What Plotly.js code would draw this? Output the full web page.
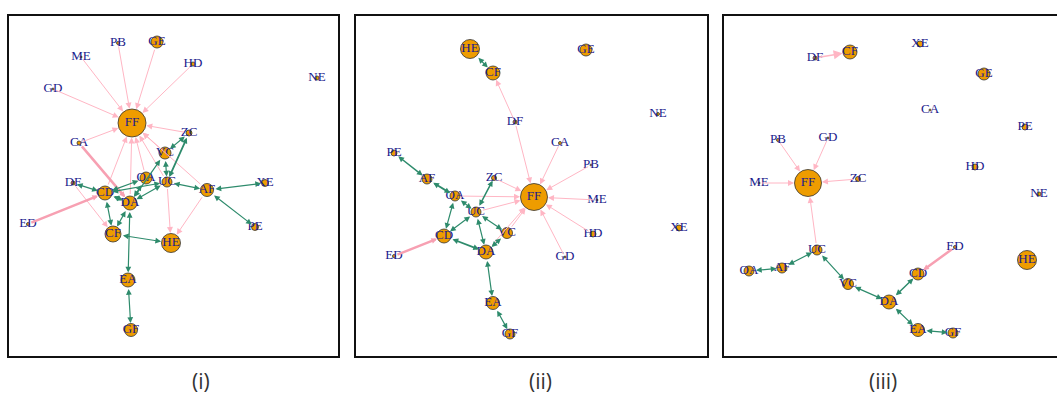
<!DOCTYPE html>
<html>
<head>
<meta charset="utf-8">
<script src="https://cdn.plot.ly/plotly-3.0.1.min.js"></script>
<style>
  html, body { margin: 0; padding: 0; background: #ffffff; }
  #chart { width: 1057px; height: 400px; }
</style>
</head>
<body>
<div id="chart"></div>
<script>
// Actor codes shared by the three networks
const nodeNames = ['PB','GE','ME','HD','NE','GD','FF','CA','ZC','VC','OA','UC','DF','CD','AF','XE','DA','ED','CF','HE','PE','EA','GF'];

// ---- Network (i): layout positions and vertex sizes ----
const layoutXi = [118,157, 81,193,317, 53,132, 79,189,165,146,167, 73,105,207,265,130, 28,113,171,255,128,131];
const layoutYi = [ 43, 42, 57, 64, 78, 89,123,143,133,153,178,182,183,193,190,183,203,224,234,243,227,280,330];
const vsizeI   = [1.5,  6,  1,  2,  2,  1, 14,  2,  3,  6,  6,  5,  2,  7,6.5,3.5,  7,1.5,  8,9.5,3.5,  7,6.5];
// one-way ties
const oneFromI = ['PB','GE','ME','HD','GD','CA','ZC','VC','OA','UC','CD','DA','AF','CA','DF','ED','UC','AF'];
const oneToI   = ['FF','FF','FF','FF','FF','FF','FF','FF','FF','FF','FF','FF','FF','DA','CF','CD','HE','HE'];
const oneWI    = [  1,   1,   1,   1,   1,   1,   1,   1,   1,   1,   1,   1,   1, 2.5,   1, 2.5,   1,   1];
// mutual ties
const twoAI = ['ZC','ZC','VC','VC','OA','UC','OA','UC','UC','AF','AF','DF','CD','CD','DA','CF','DA','EA'];
const twoBI = ['VC','UC','UC','DA','CD','CD','DA','DA','AF','XE','PE','CD','DA','CF','CF','HE','EA','GF'];
const twoWI = [1.2, 1.8, 1.2, 1.2, 1.2, 1.2, 1.2, 1.2, 1.2, 1.2, 1.2, 1.2, 1.8, 1.2, 1.2, 1.2, 1.2, 1.2];

// ---- Network (ii) ----
const layoutXii = [591,586,597,593,658,565,534,560,494,507,455,476,515,444,427,679,486,394,493,470,394,493,510];
const layoutYii = [165, 50,200,234,114,257,197,143,178,233,196,212,122,236,179,228,252,256, 73, 49,153,303,334];
const vsizeII   = [  1,  6,  1,  3,1.5,  1,13.5,1.5,2.5,5.5, 5,  5,  2,  7,  5,  3,  7,1.5,  7,9.5,  3,6.5,  5];
const oneFromII = ['DF','DF','CA','PB','ME','HD','GD','ZC','OA','UC','VC','DA','ED'];
const oneToII   = ['CF','FF','FF','FF','FF','FF','FF','FF','FF','FF','FF','FF','CD'];
const oneWII    = [  1,   1,   1,   1,   1,   1,   1,   1,   1,   1,   1,   1, 2.5];
const twoAII = ['HE','PE','AF','OA','OA','UC','UC','UC','UC','CD','VC','DA','EA'];
const twoBII = ['CF','AF','OA','CD','UC','ZC','CD','VC','DA','DA','DA','EA','GF'];
const twoWII = [1.2, 1.5, 1.8, 1.2, 1.2, 1.5, 1.2, 1.2, 1.2, 1.8, 1.2, 1.2, 1.2];

// ---- Network (iii) ----
const layoutXiii = [778,984,759,975,1039,828,808,930,858,848,749,817,815,918,782,920,889,955,850,1027,1025,918,953];
const layoutYiii = [140, 74,183,167, 194,138,183,110,179,284,271,250, 58,274,268, 44,302,247, 52, 260, 127,330,333];
const vsizeIII   = [1.5,  6,  1,  3,   2,  1,13.5, 1,2.5,5.5,  5,  5,  2,  6,  5,  3,  7,1.5,  7, 9.5,   3,6.5,  5];
const oneFromIII = ['DF','PB','GD','ME','ZC','UC','ED'];
const oneToIII   = ['CF','FF','FF','FF','FF','FF','CD'];
const oneWIII    = [1.5,   1,   1,   1,   1,   1, 2.5];
const twoAIII = ['OA','AF','UC','VC','DA','DA','EA'];
const twoBIII = ['AF','UC','VC','DA','CD','EA','GF'];
const twoWIII = [1.2, 1.2, 1.2, 1.2, 1.5, 1.2, 1.2];

const panelTitles = ['(i)', '(ii)', '(iii)'];

// ---- drawing ----
const W = 1057, H = 400;
const frameTop = 15, frameBottom = 357;
const frames = [[8, 339], [355, 708], [723, 1057]];

const nodeFill = '#EE9C00';
const labelColor = '#1a1a8c';
const oneColor = '#FFB6C4';
const oneColorHeavy = '#F7A0B2';
const twoColor = '#2E8B6C';

const panels = [
  {x: layoutXi,   y: layoutYi,   s: vsizeI,   of: oneFromI,   ot: oneToI,   ow: oneWI,   ta: twoAI,   tb: twoBI,   tw: twoWI},
  {x: layoutXii,  y: layoutYii,  s: vsizeII,  of: oneFromII,  ot: oneToII,  ow: oneWII,  ta: twoAII,  tb: twoBII,  tw: twoWII},
  {x: layoutXiii, y: layoutYiii, s: vsizeIII, of: oneFromIII, ot: oneToIII, ow: oneWIII, ta: twoAIII, tb: twoBIII, tw: twoWIII}
];

const traces = [];
const annotations = [];
const shapes = [];
const layout = {
  width: W, height: H,
  margin: {l: 0, r: 0, t: 0, b: 0},
  paper_bgcolor: '#ffffff',
  plot_bgcolor: 'rgba(0,0,0,0)',
  showlegend: false,
  hovermode: false
};

// arrowheads keep roughly the same size whatever the line width
const headSize = w => Math.max(0.3, 1.15 / w);

panels.forEach((p, k) => {
  const sfx = k === 0 ? '' : String(k + 1);
  const xa = 'x' + sfx, ya = 'y' + sfx;
  const [left, right] = frames[k];
  layout['xaxis' + sfx] = {
    domain: [left / W, Math.min(right / W, 1)],
    range: [left, right], visible: false, fixedrange: true
  };
  layout['yaxis' + sfx] = {
    domain: [1 - frameBottom / H, 1 - frameTop / H],
    range: [frameBottom, frameTop], visible: false, fixedrange: true
  };

  const idx = name => nodeNames.indexOf(name);

  const addTie = (a, b, w, both) => {
    const i = idx(a), j = idx(b);
    const heavy = !both && w > 2;
    annotations.push({
      xref: xa, yref: ya, axref: xa, ayref: ya,
      x: p.x[j], y: p.y[j], ax: p.x[i], ay: p.y[i],
      text: '', showarrow: true,
      arrowhead: 2, arrowsize: both ? headSize(w) : (heavy ? 0.45 : 1.2),
      arrowwidth: w,
      arrowcolor: both ? twoColor : (heavy ? oneColorHeavy : oneColor),
      arrowside: both ? 'end+start' : 'end',
      startarrowhead: 2, startarrowsize: headSize(w),
      standoff: p.s[j] + 0.5,
      startstandoff: p.s[i] + 0.5
    });
  };
  p.of.forEach((a, e) => addTie(a, p.ot[e], p.ow[e], false));
  p.ta.forEach((a, e) => addTie(a, p.tb[e], p.tw[e], true));

  traces.push({
    type: 'scatter', mode: 'markers+text',
    xaxis: xa, yaxis: ya,
    x: p.x, y: p.y, text: nodeNames,
    textposition: 'middle center',
    textfont: {family: 'Liberation Serif, DejaVu Serif, serif', size: 13, color: labelColor},
    marker: {
      size: p.s.map(r => 2 * r), color: nodeFill, opacity: 1,
      line: {color: '#333333', width: 0.8}
    },
    cliponaxis: false, hoverinfo: 'skip'
  });

  shapes.push({
    type: 'rect', xref: xa + ' domain', yref: ya + ' domain',
    x0: 0, x1: k === 2 ? 1.05 : 1, y0: 0, y1: 1,
    line: {color: '#111111', width: 2}, fillcolor: 'rgba(0,0,0,0)'
  });

  annotations.push({
    xref: 'paper', yref: 'paper',
    x: [201, 540, 883][k] / W, y: 1 - 381 / H,
    text: panelTitles[k], showarrow: false,
    xanchor: 'center', yanchor: 'middle',
    font: {family: 'Open Sans, DejaVu Sans, sans-serif', size: 21, color: '#333333'}
  });
});

layout.annotations = annotations;
layout.shapes = shapes;

Plotly.newPlot('chart', traces, layout, {displayModeBar: false, staticPlot: true});
</script>
</body>
</html>
